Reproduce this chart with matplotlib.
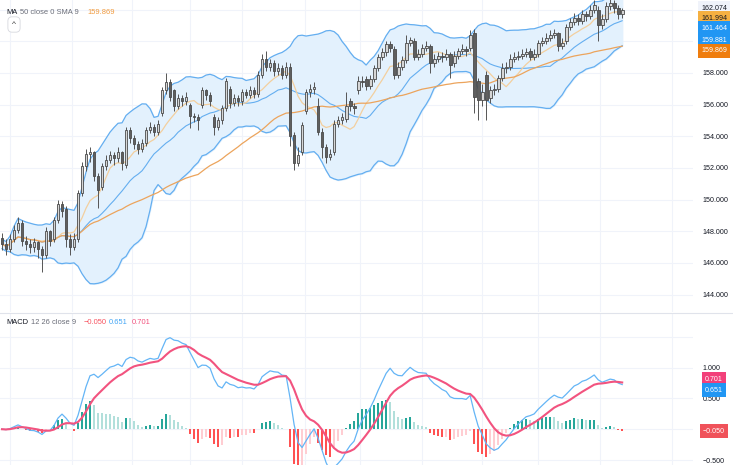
import numpy as np
import pandas as pd
import matplotlib
matplotlib.use('Agg')
import matplotlib.pyplot as plt

plt.rcParams['font.family'] = ['Liberation Sans', 'DejaVu Sans']

# OHLC, one bar per entry
opens = [147.6, 147.2, 146.9, 147.5, 148.1, 148.5, 147.4, 147.2, 147.0, 147.3,
         146.9, 146.5, 148.0, 147.5, 148.7, 149.7, 149.4, 147.5, 147.0, 147.5,
         150.4, 152.1, 152.9, 153.0, 151.5, 150.8, 152.1, 152.5, 152.8, 152.6,
         153.0, 152.2, 154.4, 153.9, 153.5, 153.2, 153.6, 154.4, 154.6, 154.3,
         155.5, 156.9, 157.4, 156.9, 155.9, 156.4, 156.2, 156.0, 155.3, 155.2,
         156.0, 156.9, 156.6, 155.2, 154.6, 155.0, 155.8, 157.0, 156.1, 156.4,
         156.2, 156.8, 156.6, 156.9, 156.7, 157.9, 158.9, 158.4, 158.6, 158.1,
         158.3, 157.9, 158.4, 154.1, 152.3, 153.0, 155.6, 156.8, 157.0, 155.9,
         154.3, 153.3, 152.7, 153.0, 154.8, 155.0, 155.1, 156.2, 155.9, 156.9,
         157.5, 157.6, 157.2, 157.6, 158.3, 159.0, 159.3, 159.8, 159.5, 157.9,
         158.4, 158.8, 159.9, 160.0, 159.0, 159.2, 159.6, 159.7, 158.6, 158.9,
         159.1, 159.0, 159.2, 158.6, 159.1, 159.4, 159.5, 159.6, 160.5, 157.5,
         156.3, 157.9, 156.4, 156.9, 157.0, 157.7, 158.3, 158.4, 158.9, 159.0,
         159.1, 159.2, 159.4, 159.0, 159.2, 159.9, 160.0, 160.2, 160.4, 160.5,
         159.7, 160.0, 160.9, 161.2, 161.5, 161.3, 161.7, 161.6, 162.0, 162.0,
         161.0, 161.4, 162.2, 162.4, 162.1, 161.7]
closes = [147.2, 146.9, 147.5, 148.1, 148.5, 147.4, 147.2, 147.0, 147.3, 146.9,
          146.5, 148.0, 147.4, 148.7, 149.7, 149.3, 147.5, 147.0, 147.5, 150.4,
          152.1, 152.9, 153.0, 151.5, 150.6, 152.1, 152.5, 152.8, 152.6, 153.0,
          152.3, 154.4, 153.9, 153.5, 153.2, 153.6, 154.4, 154.6, 154.3, 154.8,
          156.9, 157.4, 156.5, 155.9, 156.4, 156.2, 156.5, 155.3, 155.2, 155.0,
          156.9, 156.6, 156.2, 154.6, 155.0, 155.8, 157.5, 156.1, 156.4, 156.2,
          156.8, 156.6, 156.9, 156.7, 157.9, 158.9, 158.4, 158.6, 158.1, 158.3,
          157.9, 158.4, 154.0, 152.3, 152.8, 154.7, 156.8, 157.0, 157.1, 154.3,
          153.3, 152.7, 152.9, 154.8, 155.0, 155.2, 155.9, 155.9, 155.8, 157.5,
          157.4, 157.2, 157.6, 158.3, 159.0, 159.3, 159.8, 159.6, 157.9, 158.4,
          158.8, 159.9, 160.1, 159.0, 159.2, 159.6, 159.7, 158.6, 158.9, 159.1,
          159.0, 159.2, 158.5, 159.1, 159.4, 159.5, 159.4, 160.4, 156.5, 156.3,
          156.8, 156.3, 156.9, 157.0, 157.7, 158.3, 158.4, 158.9, 159.0, 159.1,
          159.2, 159.3, 159.0, 159.2, 159.9, 160.0, 160.2, 160.4, 160.5, 159.7,
          159.9, 160.9, 161.2, 161.5, 161.3, 161.7, 161.6, 162.0, 162.3, 161.0,
          161.4, 162.2, 162.4, 162.1, 161.7, 161.994]
highs = [147.9, 147.5, 147.8, 148.4, 148.9, 148.7, 147.7, 147.5, 147.6, 147.4,
         147.1, 148.3, 148.1, 148.9, 150.0, 149.9, 149.6, 147.8, 147.9, 150.6,
         152.4, 153.2, 153.3, 153.1, 151.7, 152.3, 152.8, 153.1, 153.0, 153.3,
         153.1, 154.6, 154.6, 154.1, 153.7, 153.8, 154.6, 154.9, 154.8, 155.0,
         157.1, 158.0, 157.6, 157.0, 156.7, 156.6, 156.8, 156.1, 155.5, 155.4,
         157.1, 157.0, 156.8, 155.4, 155.2, 156.0, 157.7, 157.2, 156.7, 156.6,
         157.0, 157.0, 157.2, 157.1, 158.1, 159.2, 159.4, 158.9, 158.8, 158.6,
         158.5, 158.7, 158.6, 154.3, 153.3, 154.9, 157.0, 157.3, 157.4, 156.4,
         154.5, 153.5, 153.2, 155.0, 155.3, 155.5, 156.8, 156.4, 156.1, 157.8,
         157.8, 157.8, 157.9, 158.5, 159.2, 159.6, 160.0, 160.0, 159.7, 158.7,
         159.1, 160.4, 160.3, 160.2, 159.5, 159.8, 160.0, 159.8, 159.2, 159.3,
         159.3, 159.5, 159.3, 159.4, 159.6, 159.8, 159.7, 160.7, 160.8, 157.7,
         157.3, 158.1, 157.2, 157.3, 157.9, 158.6, 158.7, 159.2, 159.3, 159.4,
         159.5, 159.6, 159.6, 159.5, 160.1, 160.3, 160.5, 160.7, 160.8, 160.6,
         160.2, 161.1, 161.5, 161.8, 161.7, 162.0, 161.9, 162.3, 162.6, 162.2,
         161.7, 162.5, 162.7, 162.6, 162.3, 162.074]
lows = [146.8, 146.5, 146.7, 147.3, 147.9, 147.1, 146.8, 146.6, 146.7, 146.3,
        145.4, 146.3, 147.1, 147.3, 148.5, 148.9, 147.0, 146.5, 146.8, 147.3,
        150.2, 151.8, 152.4, 151.2, 149.5, 150.6, 151.9, 152.3, 152.2, 152.4,
        151.9, 152.0, 153.6, 153.2, 152.9, 153.0, 153.4, 154.2, 154.0, 154.1,
        155.3, 156.7, 156.2, 155.6, 155.7, 155.9, 156.0, 154.5, 154.9, 154.4,
        155.8, 156.3, 155.9, 154.1, 154.4, 154.8, 155.6, 155.8, 155.9, 155.9,
        156.0, 156.4, 156.4, 156.4, 156.5, 157.7, 158.1, 158.1, 157.8, 157.9,
        157.6, 157.7, 153.4, 151.9, 152.1, 152.8, 155.4, 156.5, 156.7, 154.1,
        152.6, 152.3, 152.5, 152.8, 154.6, 154.8, 154.9, 155.6, 155.4, 156.7,
        157.1, 156.9, 157.0, 157.4, 158.1, 158.8, 159.1, 159.3, 157.6, 157.7,
        158.2, 158.6, 159.7, 158.8, 158.8, 159.0, 159.4, 158.0, 158.4, 158.7,
        158.7, 158.8, 157.7, 158.4, 158.9, 159.2, 159.1, 159.4, 155.5, 155.0,
        155.9, 155.0, 156.1, 156.6, 156.8, 157.5, 158.0, 158.2, 158.7, 158.8,
        158.9, 159.0, 158.8, 158.8, 159.0, 159.7, 159.8, 160.0, 160.2, 159.4,
        159.5, 159.8, 160.7, 161.0, 161.0, 161.1, 161.3, 161.4, 161.8, 160.0,
        160.8, 161.2, 162.0, 161.8, 161.4, 161.5]

grid_pos = [2, 17.5, 32.5, 47, 60, 75.75, 89.5, 105, 120, 134, 149.5, 167.5]
price_ticks = [144, 146, 148, 150, 152, 154, 156, 158]
macd_ticks = [1.0, 0.5, -0.5]

df = pd.DataFrame({'open': opens, 'high': highs, 'low': lows, 'close': closes})
x = np.arange(len(df))
c = df['close']
basis = c.rolling(20, min_periods=1).mean()
dev = c.rolling(20, min_periods=2).std(ddof=0).bfill()
upper = basis + 2 * dev
lower = basis - 2 * dev
ma50 = c.rolling(50, min_periods=1).mean()
ma_fast = c.rolling(9, min_periods=1).mean()
macd = c.ewm(span=12).mean() - c.ewm(span=26).mean()
signal = macd.ewm(span=9).mean()
hist = macd - signal

W, H = 733, 465
fig = plt.figure(figsize=(W / 100, H / 100), dpi=100)
ax = fig.add_axes([0, 1 - 312 / H, 693 / W, 312 / H])
ax2 = fig.add_axes([0, 0, 693 / W, 151 / H])

FS = 5.1
grid_c = '#f0f3fa'
for a in (ax, ax2):
    a.set_xlim(-0.5, 172.7)
    for s in a.spines.values():
        s.set_visible(False)
    for g in grid_pos:
        a.axvline(g, color=grid_c, lw=0.8, zorder=0)
    a.tick_params(axis='x', bottom=False, labelbottom=False)
    a.yaxis.tick_right()
    a.tick_params(axis='y', length=0, labelsize=FS, labelcolor='#131722', pad=7)

ax.set_ylim(142.9, 162.61)
ax.set_yticks(price_ticks)
ax.set_yticklabels(['%.3f' % v for v in price_ticks])
for v in range(144, 163, 2):
    ax.axhline(v, color=grid_c, lw=0.8, zorder=0)

# bollinger bands + moving averages
band_c = '#64aef0'
ax.fill_between(x, lower, upper, color='#e3f1fd', zorder=1)
ax.plot(x, upper, color=band_c, lw=0.9, zorder=2)
ax.plot(x, lower, color=band_c, lw=0.9, zorder=2)
ax.plot(x, basis, color=band_c, lw=0.8, zorder=2)
ax.plot(x, ma_fast, color='#f3cf9e', lw=0.9, zorder=2)
ax.plot(x, ma50, color='#eca45c', lw=0.9, zorder=2)

# candles
up = df['close'] >= df['open']
edge = '#4a4a4a'
ax.vlines(x, df['low'], df['high'], color='#555555', lw=0.7, zorder=3)
body = (df['close'] - df['open']).abs().clip(lower=0.06)
bottom = df[['open', 'close']].min(axis=1)
ax.bar(x[up], body[up], bottom=bottom[up], width=0.7, color='#d6d6d6',
       edgecolor=edge, linewidth=0.6, zorder=4)
ax.bar(x[~up], body[~up], bottom=bottom[~up], width=0.7, color='#5f5f5f',
       edgecolor=edge, linewidth=0.6, zorder=4)

# macd pane
ax2.set_ylim(-0.581, 1.871)
ax2.set_yticks(macd_ticks)
ax2.set_yticklabels(['%.3f' % v if v >= 0 else '\u2212%.3f' % -v for v in macd_ticks])
for v in [-0.5, 0, 0.5, 1.0, 1.5]:
    ax2.axhline(v, color=grid_c, lw=0.8, zorder=0)
prev = hist.shift(1).fillna(0)
cols = np.where(hist >= 0,
                np.where(hist >= prev, '#26a69a', '#b2dfdb'),
                np.where(hist < prev, '#ff5252', '#ffcdd2'))
ax2.bar(x, hist, width=0.6, color=cols, zorder=2)
ax2.plot(x, macd, color='#64b5f6', lw=0.9, zorder=3)
ax2.plot(x, signal, color='#f2537f', lw=1.5, zorder=3)

fig.add_artist(plt.Line2D([0, 1], [1 - 313 / H] * 2, color='#e0e3eb', lw=0.8))

# legends, placed piece by piece
renderer = fig.canvas.get_renderer()

def legend_row(x_px, y_px, parts):
    for txt, col, gap in parts:
        t = fig.text(x_px / W, 1 - y_px / H, txt, fontsize=5.4, color=col, va='center')
        x_px += t.get_window_extent(renderer).width + gap

legend_row(6, 13, [('MA', '#131722', 3), ('50 close 0 SMA 9', '#6a6d78', 8),
                   ('159.869', '#f09a3e', 0)])
legend_row(6, 323, [('MACD', '#131722', 3), ('12 26 close 9', '#6a6d78', 7),
                    ('\u22120.050', '#f7525f', 3), ('0.651', '#42a5f5', 4),
                    ('0.701', '#f2537f', 0)])
fig.text(14 / W, 1 - 24.5 / H, '^', fontsize=6, color='#333333', ha='center', va='center',
         bbox=dict(boxstyle='round,pad=0.5', fc='white', ec='#d6d8de', lw=0.6))

# price scale labels
def tag(y_px, txt, fc, tc):
    fig.text(714 / W, 1 - y_px / H, txt, fontsize=FS, color=tc, ha='center', va='center',
             bbox=dict(boxstyle='square,pad=0.45', fc=fc, ec='none'))

tag(8, '162.074', '#f0f3fa', '#131722')
tag(18, '161.994', '#f5b041', '#131722')
tag(28, '161.464', '#2196f3', 'white')
tag(41, '159.881', '#2196f3', 'white')
tag(51, '159.869', '#ef7d0e', 'white')
tag(379, '0.701', '#f2407a', 'white')
tag(390, '0.651', '#2196f3', 'white')
tag(431, '\u22120.050', '#f0525a', 'white')

fig.savefig('out.png', dpi=100)
